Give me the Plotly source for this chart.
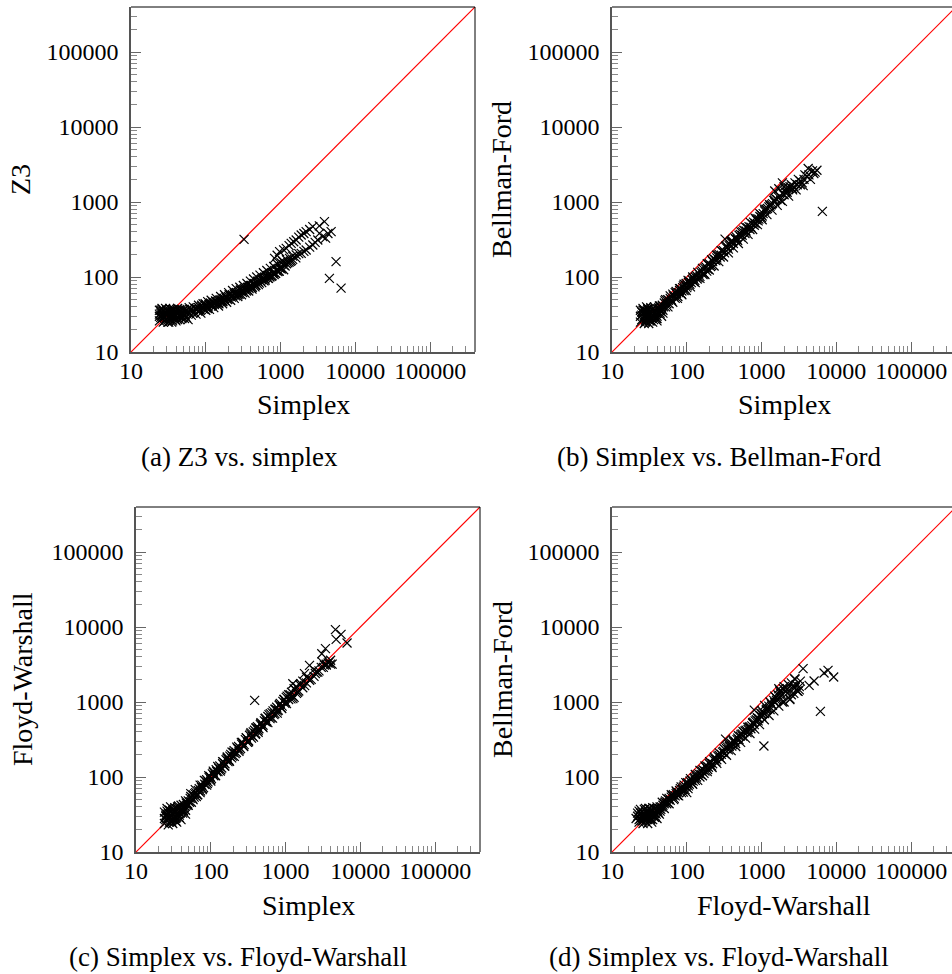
import plotly.graph_objects as go

# ---------------- data ----------------
diag = [10, 400000]

a_simplex = [24, 25, 26, 27, 27, 28, 29, 30, 30, 31, 32, 33, 34, 35, 36, 37, 38, 40, 40, 42, 44, 45, 47, 50, 52, 55, 58,
             60, 65, 70, 72, 78, 80, 85, 90, 95, 100, 105, 110, 120, 125, 130, 140, 150, 155, 165, 175, 180, 190, 200,
             210, 220, 240, 250, 260, 280, 300, 310, 330, 350, 370, 380, 400, 420, 450, 470, 500, 520, 560, 600, 630,
             680, 700, 750, 800, 850, 900, 950, 1000, 1050, 1100, 1200, 1300, 1400,
             832, 900, 970, 1100, 1190, 1300, 1387, 1500, 1617, 1750, 1887, 2050, 2198, 2450, 2699, 3862, 3300,
             1075, 1200, 1318, 1450, 1617, 1750, 1887, 2050, 2198, 2450, 2699, 2900, 3148, 3311, 3664, 4000, 4745, 4300,
             5521, 4500, 6442, 325]
a_z3 = [30, 33, 28, 31, 35, 29, 33, 27, 31, 34, 30, 28, 32, 36, 30, 33, 29, 31, 35, 32, 30, 34, 33, 31, 35, 33, 27,
        33, 37, 34, 38, 35, 39, 36, 40, 37, 42, 38, 43, 41, 46, 43, 47, 44, 49, 47, 52, 49, 54, 51,
        57, 54, 60, 56, 62, 59, 66, 62, 69, 65, 73, 70, 77, 73, 81, 78, 86, 83, 92, 89, 98,
        96, 106, 102, 115, 112, 126, 120, 135, 130, 145, 150, 158, 165,
        177, 195, 218, 230, 241, 262, 281, 295, 311, 340, 363, 380, 402, 430, 469, 547, 480,
        160, 170, 177, 190, 197, 205, 207, 220, 229, 250, 267, 290, 311, 382, 345, 330, 402, 380,
        160, 96, 71, 318]
a_simplex_more = [25, 26, 28, 29, 31, 33, 35, 37, 39, 41, 43, 46, 48, 50, 53, 56, 62, 67, 75, 82, 88, 93, 98, 108,
                  115, 122, 135, 145, 160, 170, 185, 195, 205, 230, 245, 270, 290, 320, 340, 360, 390, 410, 440, 460,
                  490, 540, 580, 620, 660, 720, 780, 820, 880, 920, 980, 1020, 1150, 1250, 1350, 1450, 1600,
                  26, 28, 30, 32, 34, 36, 38, 42, 45, 48, 52, 55, 60, 64, 68, 74, 80, 86, 92, 100, 106, 112,
                  118, 128, 138, 148, 158, 168, 178, 190, 202, 215, 228, 240, 255, 268, 285, 300, 318, 335, 355,
                  375, 395, 415, 435, 455, 480, 505, 530, 560, 590, 620, 655, 690, 730, 770, 810, 860, 910, 960,
                  1010, 1100,
                  24, 24, 26, 27, 29, 31, 33, 35, 37, 40, 42, 45, 48, 52, 24, 25, 36, 39]
a_z3_more = [36, 31, 34, 27, 29, 35, 29, 30, 34, 28, 35, 31, 29, 36, 31, 36, 37, 33, 38, 35, 42, 38, 44, 40,
             45, 42, 48, 45, 50, 47, 54, 50, 58, 56, 62, 58, 67, 64, 72, 68, 76, 71, 82, 77,
             88, 88, 97, 94, 104, 100, 112, 108, 122, 118, 130, 128, 140, 155, 162, 172, 180,
             37, 26, 36, 25, 37, 26, 36, 27, 37, 28, 37, 29, 39, 31, 40, 32, 42, 33, 44, 36, 47, 37,
             49, 39, 52, 41, 55, 44, 58, 46, 62, 49, 66, 52, 70, 55, 73, 58, 77, 61, 82,
             65, 88, 69, 94, 74, 100, 79, 106, 84, 114, 90, 122, 96, 130, 104, 138, 112, 148, 120,
             155, 125,
             26, 36, 38, 25, 38, 25, 38, 25, 37, 26, 38, 27, 37, 28, 32, 29, 36, 27]

b_simplex = [24, 25, 26, 27, 28, 28, 29, 30, 31, 32, 33, 34, 35, 36, 38, 40, 42, 44, 46, 48,
             50, 52, 55, 58, 60, 63, 66, 70, 73, 76, 80, 84, 88, 92, 96, 100, 105, 110, 118, 125, 130, 138, 145, 150,
             160, 170, 180, 190, 200, 215, 230, 245, 260, 280, 300, 320, 340, 360, 325, 380, 400, 420, 450, 480, 500,
             530, 560, 600, 650, 700, 750, 800, 850, 900, 950, 1000, 1050, 1100, 1200, 1300, 1400, 1500, 1600, 1700,
             1800, 1900, 2000, 2100, 2200, 2400, 2600, 2800, 3000, 3300, 3600, 4000, 4200, 4500, 5000, 5500,
             1900, 2000, 1700, 1500, 6500]
b_bf = [30, 27, 33, 29, 32, 26, 35, 30, 27, 33, 29, 36, 31, 27, 34, 30, 37, 33, 39, 36,
        45, 40, 50, 44, 52, 48, 56, 52, 60, 55, 66, 60, 72, 66, 78, 72, 85, 80, 92, 86, 100, 94, 110, 102,
        120, 112, 136, 128, 150, 142, 175, 165, 195, 185, 220, 210, 245, 235, 320, 270, 300, 280, 320, 305, 360,
        340, 400, 380, 450, 430, 510, 490, 580, 560, 640, 620, 700, 760, 820, 880, 950, 1000, 1080, 1150,
        1050, 1300, 1250, 1500, 1350, 1600, 1450, 1800, 1700, 1900, 1650, 2200, 2800, 2000, 2400, 2650,
        1800, 1600, 1500, 1400, 750]
b_simplex_more = [25, 27, 29, 30, 32, 34, 36, 37, 39, 41, 43, 45, 47, 49, 51, 54, 57, 62, 65, 68, 72, 78, 82, 86,
                  90, 94, 98, 102, 108, 115, 122, 128, 135, 142, 155, 165, 175, 185, 195, 208, 222, 238, 252, 270,
                  290, 310, 350, 370, 390, 410, 440, 470, 520, 550, 580, 620, 680, 720, 780, 820, 870, 920, 980,
                  1020, 1150, 1250, 1350, 1450, 1550, 2300, 2500, 2700, 3100, 3500, 3800, 4800,
                  26, 28, 30, 33, 36, 40, 44, 48, 52, 56, 60, 65, 70, 75, 80, 86, 92, 98, 104, 112, 120, 130,
                  140, 150, 162, 175, 188, 200, 215, 232, 250, 268, 288, 310, 335, 360, 390, 420, 455, 490, 530,
                  570, 615, 660, 710, 760, 820, 880, 950, 1020, 1100, 1180, 1280, 1380, 1500, 1620, 1750, 1900,
                  2100, 2300, 2600, 2900, 3300, 3700, 4300, 5200,
                  24, 24, 26, 27, 29, 31, 33, 35, 37, 40, 43, 46, 25, 30]
b_bf_more = [34, 36, 28, 37, 26, 29, 35, 31, 28, 33, 38, 35, 42, 40, 48, 44, 49, 50, 59, 54, 64, 62, 70, 65,
             76, 70, 82, 76, 88, 84, 96, 90, 104, 98, 115, 108, 130, 120, 145, 138, 160, 170, 180, 200,
             195, 225, 250, 262, 290, 300, 330, 320, 370, 360, 420, 410, 470, 460, 540, 520, 600, 590, 680,
             650, 800, 860, 920, 1050, 1100, 1550, 1700, 1600, 2000, 1800, 2300, 2600,
             36, 25, 38, 26, 38, 28, 41, 33, 50, 40, 56, 46, 62, 52, 70, 58, 80, 66, 90, 74, 100, 84,
             115, 96, 130, 108, 150, 124, 170, 140, 195, 160, 225, 185, 260, 210, 300, 245, 345, 280, 400,
             320, 460, 370, 530, 430, 610, 500, 700, 580, 800, 680, 920, 780, 1050, 900, 1200, 1020,
             1350, 1200, 1500, 1450, 1700, 2000, 2300, 2500,
             25, 36, 38, 24, 40, 24, 39, 25, 40, 26, 41, 30, 31, 33]

c_simplex = [24, 25, 26, 27, 28, 28, 29, 30, 31, 32, 33, 34, 35, 36, 38, 40, 42, 44, 46, 48,
             50, 53, 55, 58, 60, 63, 66, 70, 73, 76, 80, 85, 90, 95, 100, 105, 110, 118, 125, 132, 140, 148, 155,
             165, 175, 185, 195, 205, 220, 235, 250, 265, 280, 300, 320, 340, 360, 385, 400, 420, 440, 470, 500, 530,
             560, 600, 640, 680, 720, 760, 800, 850, 900, 950, 1000, 1050, 1100, 1200, 1300, 1400, 1500, 1600, 1800,
             2000, 2200, 2500, 2800, 3000, 3300, 3700, 4000, 4200, 1250, 1253, 1790, 2090, 3050, 3415, 4642, 5520,
             4745, 6640, 386]
c_fw = [28, 31, 26, 33, 29, 25, 35, 30, 27, 34, 30, 26, 37, 32, 29, 36, 33, 39, 36, 42,
        48, 52, 46, 58, 54, 62, 58, 70, 65, 78, 72, 88, 82, 98, 92, 110, 104, 125, 118, 140, 132, 158, 150,
        178, 168, 200, 190, 225, 212, 255, 240, 290, 270, 330, 305, 375, 350, 420, 380, 470, 440, 530, 490, 600,
        560, 680, 620, 760, 700, 850, 780, 960, 880, 1080, 1000, 1200, 1080, 1350, 1150, 1600, 1400, 1750, 1650,
        2100, 2000, 2400, 2600, 2900, 3100, 3300, 3600, 3200, 1750, 1108, 2390, 3080, 4400, 5140, 9210, 7980,
        6850, 6120, 1052]
c_simplex_more = [25, 26, 27, 29, 30, 31, 32, 33, 35, 36, 37, 39, 41, 43, 45, 47, 49, 52, 54, 57, 61, 64, 68, 72,
                  75, 78, 83, 88, 92, 98, 102, 108, 114, 120, 128, 136, 144, 152, 160, 170, 180, 190, 200, 212,
                  228, 242, 258, 272, 290, 310, 330, 350, 370, 395, 410, 430, 460, 490, 520, 550, 580, 620, 660,
                  700, 740, 780, 820, 870, 920, 980, 1020, 1150, 1250, 1350, 1450, 1700, 1900, 2400, 2600, 3200,
                  3500, 3800,
                  26, 28, 30, 32, 34, 36, 38, 40, 43, 46, 50, 54, 58, 62, 67, 72, 77, 82, 88, 94, 100, 108,
                  116, 124, 134, 144, 154, 166, 178, 192, 206, 222, 238, 256, 276, 298, 320, 345, 372, 400, 430,
                  465, 500, 540, 580, 625, 670, 720, 775, 830, 890, 960, 1030, 1100, 1180, 1300, 1400, 1550,
                  1700, 1900, 2100, 2400, 2700, 3100, 3500, 4000,
                  24, 24, 26, 27, 29, 31, 33, 35, 37, 40, 43, 46, 25, 30]
c_fw_more = [27, 35, 28, 31, 25, 36, 28, 33, 29, 38, 34, 33, 38, 36, 41, 45, 44, 46, 55, 52, 60, 55, 66, 62,
             72, 70, 80, 92, 86, 102, 96, 115, 106, 118, 130, 125, 150, 140, 170, 160, 190, 180, 215, 205,
             240, 230, 275, 260, 315, 290, 360, 330, 400, 370, 450, 420, 500, 470, 560, 540, 640, 600, 720,
             680, 800, 760, 900, 840, 1020, 960, 1150, 1250, 1200, 1450, 1350, 1900, 1800, 2200, 2500, 2900,
             3200, 3400,
             32, 36, 26, 37, 28, 40, 31, 42, 35, 48, 42, 60, 50, 68, 58, 78, 68, 90, 78, 104, 88, 120,
             104, 138, 120, 160, 140, 185, 162, 215, 188, 250, 220, 290, 255, 335, 295, 390, 340, 450, 395,
             520, 455, 610, 530, 700, 610, 800, 710, 930, 820, 1080, 950, 1250, 1100, 1500, 1300, 1700,
             1550, 2150, 1950, 2700, 2500, 3400, 3100, 3200,
             24, 34, 38, 23, 40, 24, 39, 25, 41, 27, 43, 32, 30, 33]

d_fw = [22, 23, 24, 25, 26, 27, 28, 29, 30, 31, 32, 33, 34, 35, 36, 38, 40, 42, 44, 46,
        50, 52, 55, 58, 60, 64, 68, 72, 75, 80, 85, 90, 95, 100, 100, 105, 110, 118, 125, 130, 140, 150,
        160, 170, 180, 190, 200, 215, 230, 245, 260, 280, 300, 320, 330, 340, 360, 380, 400, 420, 450, 480,
        500, 530, 560, 600, 640, 680, 720, 760, 800, 800, 850, 900, 950, 1000, 1050, 1100, 1100, 1200, 1300,
        1300, 1400, 1500, 1500, 1600, 1700, 1800, 1900, 2000, 2100, 2300, 2400, 2600, 2800, 3000, 3300,
        1075, 6120, 3593, 7740, 9210, 6850, 5040, 4325, 3080, 2388, 2782]
d_bf = [30, 27, 33, 29, 26, 32, 35, 30, 27, 33, 29, 36, 31, 27, 34, 30, 37, 33, 35, 40,
        44, 48, 46, 52, 49, 56, 52, 60, 57, 66, 62, 74, 68, 82, 62, 76, 88, 82, 96, 90, 106, 100,
        120, 112, 135, 126, 150, 140, 170, 160, 190, 180, 215, 205, 320, 240, 230, 270, 258, 295, 280, 330,
        315, 370, 350, 410, 390, 460, 440, 520, 500, 780, 580, 560, 660, 640, 720, 900, 700, 820, 1000,
        790, 900, 1200, 980, 1100, 1500, 1300, 1000, 1600, 1400, 1700, 1100, 1600, 2000, 1400, 1900,
        259, 751, 2782, 2644, 2154, 2436, 1905, 1668, 1387, 1075, 2047]
d_fw_more = [23, 24, 25, 26, 27, 28, 29, 30, 31, 32, 33, 34, 36, 37, 39, 41, 43, 45, 48, 51, 54, 57, 62, 66,
             70, 74, 78, 82, 88, 92, 98, 103, 108, 115, 122, 128, 135, 145, 155, 165, 175, 185, 195, 208,
             222, 238, 252, 270, 290, 310, 350, 370, 390, 410, 440, 470, 520, 550, 580, 620, 660, 700, 740,
             780, 820, 880, 920, 980, 1020, 1150, 1250, 1350, 1450, 1550, 1650, 1750, 1950, 2200, 2500, 2700,
             3200, 2900,
             23, 25, 27, 29, 31, 33, 35, 37, 40, 43, 47, 50, 54, 58, 62, 67, 72, 78, 84, 90, 97, 104,
             112, 120, 130, 140, 150, 162, 175, 188, 202, 218, 235, 252, 272, 292, 315, 340, 365, 392, 420,
             452, 490, 525, 565, 610, 655, 700, 760, 810, 880, 940, 1010, 1090, 1170, 1260, 1360, 1460,
             1580, 1700, 1850, 2000, 2200, 2500, 2800, 3200,
             21, 22, 23, 24, 26, 28, 30, 32, 34, 37, 40, 44, 25, 29]
d_bf_more = [31, 28, 34, 30, 28, 31, 33, 36, 29, 32, 27, 35, 30, 33, 32, 35, 38, 37, 42, 46, 44, 50, 54, 58,
             56, 62, 62, 70, 68, 78, 74, 84, 80, 90, 88, 98, 100, 110, 108, 125, 120, 140, 135, 155,
             150, 175, 170, 195, 200, 220, 250, 255, 285, 270, 300, 315, 350, 375, 390, 420, 430, 470, 480,
             540, 560, 620, 600, 700, 760, 780, 880, 950, 1050, 1150, 1250, 1400, 1500, 1500, 1800, 1300,
             1600, 1700,
             35, 26, 37, 27, 38, 28, 39, 29, 40, 32, 46, 38, 52, 44, 58, 50, 65, 56, 74, 63, 84, 70,
             95, 80, 108, 90, 122, 104, 140, 118, 160, 134, 184, 152, 210, 172, 238, 195, 270, 225, 310,
             255, 355, 290, 405, 330, 460, 380, 530, 435, 610, 500, 700, 580, 800, 660, 920, 760,
             1050, 880, 1200, 1000, 1300, 1250, 1550, 1450,
             28, 33, 25, 37, 24, 38, 24, 38, 25, 38, 28, 40, 31, 29]

major_ticks = [10, 100, 1000, 10000, 100000]
major_labels = ["10", "100", "1000", "10000", "100000"]
minor_ticks = [m * 10 ** e for e in range(1, 6) for m in range(2, 10) if m * 10 ** e < 400000]

x_labels = ["Simplex", "Simplex", "Simplex", "Floyd-Warshall"]
y_labels = ["Z3", "Bellman-Ford", "Floyd-Warshall", "Bellman-Ford"]
captions = ["(a) Z3 vs. simplex", "(b) Simplex vs. Bellman-Ford",
            "(c) Simplex vs. Floyd-Warshall", "(d) Simplex vs. Floyd-Warshall"]

# ---------------- layout geometry ----------------
W, H = 952, 974
FONT = "Liberation Serif"
DEC = 344 / 4.6  # px per decade

panels = [
    # (x0, x1, ytop, ybottom, clipped_right)
    (131, 475, 7, 352, False),
    (612, 952, 7, 352, True),
    (136, 480, 507, 852, False),
    (612, 952, 507, 852, True),
]
series = [(a_simplex + a_simplex_more, a_z3 + a_z3_more),
          (b_simplex + b_simplex_more, b_bf + b_bf_more),
          (c_simplex + c_simplex_more, c_fw + c_fw_more),
          (d_fw + d_fw_more, d_bf + d_bf_more)]

fig = go.Figure()
layout = dict(template="none", width=W, height=H, margin=dict(l=0, r=0, t=0, b=0, pad=0),
              paper_bgcolor="white", plot_bgcolor="white", showlegend=False,
              font=dict(family=FONT, size=24, color="black"))
annotations = []
shapes = []

for i, ((x0, x1, yt, yb, clipped), (xs, ys)) in enumerate(zip(panels, series)):
    n = "" if i == 0 else str(i + 1)
    xa, ya = "x" + n, "y" + n
    xmax = 1 + (x1 - x0) / DEC
    fig.add_trace(go.Scatter(x=diag, y=diag, mode="lines", line=dict(color="#ff0000", width=1.2),
                             xaxis=xa, yaxis=ya, hoverinfo="skip"))
    fig.add_trace(go.Scatter(x=xs, y=ys, mode="markers", xaxis=xa, yaxis=ya,
                             marker=dict(symbol="x-thin", size=9, color="black",
                                         line=dict(color="black", width=1.2))))
    common = dict(type="log", showgrid=False, zeroline=False, showline=True, automargin=False,
                  linecolor="#555", linewidth=1.5, ticks="inside", ticklen=10, tickwidth=1,
                  tickcolor="#666", tickmode="array", tickvals=major_ticks, ticktext=major_labels,
                  tickfont=dict(family=FONT, size=24, color="black"),
                  minor=dict(ticks="inside", ticklen=6, tickwidth=1, tickcolor="#888",
                             tickmode="array", tickvals=minor_ticks, showgrid=False))
    layout["xaxis" + n] = dict(common, domain=[x0 / W, x1 / W], range=[1, xmax],
                               anchor=ya, ticklabelstandoff=-4)
    layout["yaxis" + n] = dict(common, domain=[1 - yb / H, 1 - yt / H], range=[1, 5.6],
                               anchor=xa, ticklabelstandoff=6)
    # top and right frame lines
    shapes.append(dict(type="line", xref=xa + " domain", yref=ya + " domain",
                       x0=0, x1=1, y0=1, y1=1, line=dict(color="black", width=1)))
    if not clipped:
        shapes.append(dict(type="line", xref=xa + " domain", yref=ya + " domain",
                           x0=1, x1=1, y0=0, y1=1, line=dict(color="black", width=1)))

title_pos = [
    # (xtitle cx, xtitle cy, ytitle cx, ytitle cy, caption cx, caption cy)
    (303, 405, 21, 180, 239, 457),
    (784, 405, 502, 180, 719, 457),
    (308, 905, 22, 679, 238, 957),
    (784, 905, 502, 680, 719, 957),
]
for i, (xcx, xcy, ycx, ycy, ccx, ccy) in enumerate(title_pos):
    annotations.append(dict(text=x_labels[i], x=xcx / W, y=1 - xcy / H, xref="paper", yref="paper",
                            showarrow=False, xanchor="center", yanchor="middle",
                            font=dict(family=FONT, size=28, color="black")))
    annotations.append(dict(text=y_labels[i], x=ycx / W, y=1 - ycy / H, xref="paper", yref="paper",
                            showarrow=False, xanchor="center", yanchor="middle", textangle=-90,
                            font=dict(family=FONT, size=28, color="black")))
    annotations.append(dict(text=captions[i], x=ccx / W, y=1 - ccy / H, xref="paper", yref="paper",
                            showarrow=False, xanchor="center", yanchor="middle",
                            font=dict(family=FONT, size=27, color="black")))

layout["annotations"] = annotations
layout["shapes"] = shapes
fig.update_layout(**layout)
fig.write_html("out.html", config={"displayModeBar": False},
               post_script="document.body.style.margin='0px';")
